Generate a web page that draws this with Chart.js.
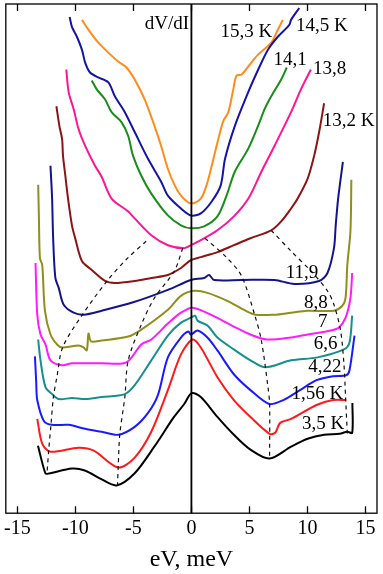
<!DOCTYPE html>
<html>
<head>
<meta charset="utf-8">
<script src="https://cdn.jsdelivr.net/npm/chart.js@4"></script>
<style>
  body { margin: 0; background: #fff; }
  #wrap { width: 383px; height: 574px; }
</style>
</head>
<body>
<div id="wrap"><canvas id="dvdi" width="383" height="574"></canvas></div>
<script>
// dV/dI curves, x in meV, y in arbitrary units (curves are offset for clarity)
const t15_3 = [[-9.44,497],[-8.87,487],[-8.02,474],[-7.16,464],[-6.31,455],[-5.6,449],[-4.89,437],[-4.03,417],[-3.18,390],[-2.61,370],[-2.03,347],[-1.47,331],[-0.9,320],[-0.04,312],[0.81,317],[1.32,331],[1.75,350],[2.32,377],[2.75,395],[3.18,404],[3.61,427],[3.89,441],[4.32,442],[5.03,452],[5.74,462],[6.88,474],[7.45,487],[7.88,497]];
const t14_5 = [[-10.5,500],[-10.3,490],[-9.87,480],[-9.44,467],[-9.16,454],[-8.74,444],[-8.02,439],[-7.16,434],[-6.6,420],[-5.74,404],[-4.89,384],[-3.74,357],[-2.61,334],[-2.03,320],[-0.9,307],[-0.04,300],[0.81,302],[1.75,314],[2.52,330],[2.9,357],[3.74,390],[4.89,424],[5.88,450],[6.6,467],[7.45,480],[8.44,492],[8.59,497],[9.3,509]];
const t14_1 = [[-8.59,436],[-8.16,427],[-7.45,417],[-6.88,404],[-6.03,394],[-5.45,380],[-5.03,360],[-4.32,340],[-3.46,322],[-2.03,300],[-0.9,290],[-0.04,287],[1.09,289],[2.24,299],[3.03,320],[3.74,344],[4.89,367],[5.74,390],[6.31,407],[6.88,420],[7.74,437],[8.22,449]];
const t13_8 = [[-10.79,447],[-10.58,424],[-10.15,407],[-9.73,387],[-9.16,370],[-8.31,350],[-7.74,339],[-6.88,317],[-5.45,304],[-4.89,297],[-3.46,280],[-2.03,270],[-0.62,267],[-0.04,270],[0.81,275],[2.24,285],[3.66,299],[4.91,317],[6.03,344],[7.16,370],[8.59,404],[9.44,427],[10.3,447]];
const t13_2 = [[-11.64,410],[-11.38,390],[-11.15,377],[-11.07,360],[-10.87,340],[-10.67,320],[-10.3,290],[-10.02,277],[-9.44,254],[-8.59,245],[-7.45,234],[-6.6,232],[-4.89,234],[-3.46,237],[-2.03,240],[-0.9,247],[-0.04,255],[0.81,258],[2.24,263],[3.66,270],[5.09,277],[6.88,285],[7.74,294],[8.59,307],[9.16,317],[10.02,337],[10.58,360],[11.01,384],[11.44,413]];
const t11_9 = [[-12.15,350],[-12.01,317],[-11.92,277],[-11.73,237],[-11.44,227],[-11.01,210],[-10.15,202],[-9.3,200],[-7.74,204],[-4.89,213],[-2.03,225],[-0.04,235],[1.09,237],[1.52,240],[1.95,235],[4.32,235],[7.16,235],[8.87,231],[11.01,234],[11.73,242],[12.29,267],[12.44,290],[12.65,317],[13.06,354]];
const t8_8 = [[-13.21,331],[-13.15,300],[-13.06,257],[-12.86,250],[-12.63,204],[-12.15,180],[-11.58,170],[-11.15,167],[-9.73,169],[-9.3,167],[-9.02,164],[-8.87,181],[-8.65,173],[-7.74,174],[-5.45,178],[-4.32,185],[-2.03,205],[-0.9,219],[0.24,224],[1.38,222],[3.09,214],[4.51,205],[5.51,200],[7.16,200],[8.59,202],[10.02,204],[12.29,204],[13.01,209],[13.29,217],[13.44,250],[13.71,284],[13.79,336]];
const t7 = [[-13.44,252],[-13.29,200],[-13.01,180],[-12.58,170],[-12.15,154],[-11.15,149],[-10.3,151],[-7.74,151],[-5.6,152],[-4.32,170],[-3.46,175],[-2.03,191],[-0.9,202],[0.1,207],[1.67,200],[3.66,188],[5.09,180],[6.51,175],[8.59,177],[10.02,180],[12.01,184],[12.72,187],[13.29,197],[13.71,217],[13.86,242]];
const t6_6 = [[-13.21,175],[-13.01,154],[-12.58,127],[-12.01,120],[-11.44,115],[-10.3,116],[-9.16,115],[-7.74,117],[-5.74,120],[-4.89,129],[-3.46,154],[-2.03,179],[-0.9,192],[-0.04,197],[0.32,199],[0.53,194],[1.38,189],[2.24,177],[3.66,165],[5.09,154],[6.37,147],[8.59,154],[10.87,157],[13.15,165],[13.63,172],[13.86,199]];
const t4_22 = [[-13.49,158],[-13.38,132],[-13.29,114],[-12.72,93],[-12.01,89],[-10.58,89],[-9.16,85],[-7.74,82],[-6.31,79],[-4.89,87],[-3.74,101],[-2.89,119],[-2.03,157],[-0.9,177],[-0.27,183],[-0.04,180],[0.53,184],[1.38,177],[2.24,164],[3.66,140],[5.09,124],[6.71,110],[7.93,114],[9.36,124],[10.79,134],[12.21,138],[13.35,139],[13.63,144],[14.06,179]];
const t1_56 = [[-13.29,95],[-12.86,70],[-12.15,62],[-9.73,66],[-8.42,63],[-6.31,46],[-4.89,56],[-3.46,82],[-2.03,124],[-0.9,160],[0.1,175],[0.81,167],[2.24,137],[3.66,114],[5.09,97],[6.74,80],[7.22,81],[7.65,91],[8.59,95],[10.79,109],[12.21,114],[13.35,114]];
const t3_5 = [[-13.23,68],[-12.58,40],[-12.29,40],[-10.3,45],[-9.19,43],[-7.73,34],[-6.45,28],[-4.91,40],[-3.2,67],[-1.5,97],[-0.62,110],[0.02,121],[0.81,117],[2.24,97],[3.66,79],[5.09,64],[6.74,55],[8.59,67],[10.02,75],[11.44,79],[12.78,80],[13.44,82],[13.86,81],[13.88,111]];

// dashed guide lines following the gap features
const gapOuterL = [[-3.9,274],[-5.5,257],[-7.2,235],[-9.4,200],[-11.1,167],[-11.6,137],[-11.9,117],[-12.1,90],[-12.3,64],[-12.45,40]];
const gapInnerL = [[-0.75,267],[-1.47,244],[-3.18,217],[-4.32,190],[-5.45,154],[-5.74,117],[-6.17,80],[-6.31,47],[-6.37,29]];
const gapInnerR = [[1.18,277],[3.09,257],[4.32,239],[5.45,200],[6.03,174],[6.6,127],[6.74,110],[6.74,55]];
const gapOuterR = [[6.88,285],[8.59,264],[10.3,244],[11.73,224],[12.29,210],[12.86,184],[13.15,150],[13.29,117],[13.44,80]];

const xTicks = [-15, -10, -5, 0, 5, 10, 15];

// temperature labels: text, x (meV), y
const tempLabels = [
  ['15,3 K', 4.74, 485], ['14,5 K', 11.24, 491], ['14,1', 8.5, 457], ['13,8', 11.92, 448],
  ['13,2 K', 13.55, 395], ['11,9', 9.53, 242], ['8,8', 10.73, 212], ['7', 11.32, 193],
  ['6,6', 11.58, 170], ['4,22', 11.5, 147], ['1,56 K', 10.85, 120], ['3,5 K', 11.35, 90]
];

const serif = "'Liberation Serif', 'DejaVu Serif', serif";

function pts(a) { return a.map(p => ({ x: p[0], y: p[1] })); }

const curves = [
  [t3_5, '#000000'], [t1_56, '#ff1a1a'], [t4_22, '#1a1aff'], [t6_6, '#178f8f'],
  [t7, '#ff1aff'], [t8_8, '#8f8f1a'], [t11_9, '#14148a'], [t13_2, '#8b1414'],
  [t13_8, '#ff1493'], [t14_1, '#1a8c1a'], [t14_5, '#1414a8'], [t15_3, '#ff8c1a']
];

const datasets = [];
[gapOuterL, gapInnerL, gapInnerR, gapOuterR].forEach(g => {
  datasets.push({ data: pts(g), borderColor: '#111', borderWidth: 1.2, borderDash: [4, 4], tension: 0.3 });
});
curves.forEach(c => {
  datasets.push({ data: pts(c[0]), borderColor: c[1], borderWidth: 2, tension: 0.3 });
});

const frame = {
  id: 'frame',
  afterDatasetsDraw(chart) {
    const ctx = chart.ctx, a = chart.chartArea, xs = chart.scales.x;
    ctx.save();
    ctx.strokeStyle = '#000';
    ctx.lineWidth = 1.3;
    ctx.strokeRect(a.left, a.top, a.right - a.left, a.bottom - a.top);
    // inward ticks top and bottom
    xTicks.forEach(v => {
      const px = Math.round(xs.getPixelForValue(v)) + 0.5;
      ctx.beginPath();
      ctx.moveTo(px, a.bottom); ctx.lineTo(px, a.bottom - 7);
      ctx.moveTo(px, a.top); ctx.lineTo(px, a.top + 7);
      ctx.stroke();
    });
    // zero bias line
    const x0 = xs.getPixelForValue(0);
    ctx.lineWidth = 1.8;
    ctx.beginPath();
    ctx.moveTo(x0, a.top); ctx.lineTo(x0, a.bottom);
    ctx.stroke();
    // labels
    const ys = chart.scales.y;
    ctx.fillStyle = '#000';
    ctx.font = '19px ' + serif;
    ctx.textAlign = 'center';
    ctx.textBaseline = 'middle';
    tempLabels.forEach(l => {
      ctx.fillText(l[0], xs.getPixelForValue(l[1]), ys.getPixelForValue(l[2]));
    });
    ctx.textAlign = 'right';
    ctx.fillText('dV/dI', xs.getPixelForValue(-0.2), ys.getPixelForValue(493));
    ctx.restore();
  }
};

new Chart(document.getElementById('dvdi'), {
  type: 'line',
  data: { datasets },
  options: {
    responsive: false,
    animation: false,
    layout: { padding: { left: 3, right: 6, top: 4, bottom: 0 } },
    elements: { point: { radius: 0 } },
    plugins: { legend: { display: false }, tooltip: { enabled: false } },
    scales: {
      x: {
        type: 'linear', min: -16, max: 16,
        afterBuildTicks: s => { s.ticks = xTicks.map(v => ({ value: v })); },
        grid: { display: false, drawTicks: false },
        border: { display: false },
        ticks: { padding: 4, color: '#000', font: { family: serif, size: 20 } },
        title: { display: true, text: 'eV, meV', color: '#000', padding: { top: 0, bottom: 0 }, font: { family: serif, size: 24 } }
      },
      y: { type: 'linear', min: 0, max: 513, display: false }
    }
  },
  plugins: [frame]
});
</script>
</body>
</html>
